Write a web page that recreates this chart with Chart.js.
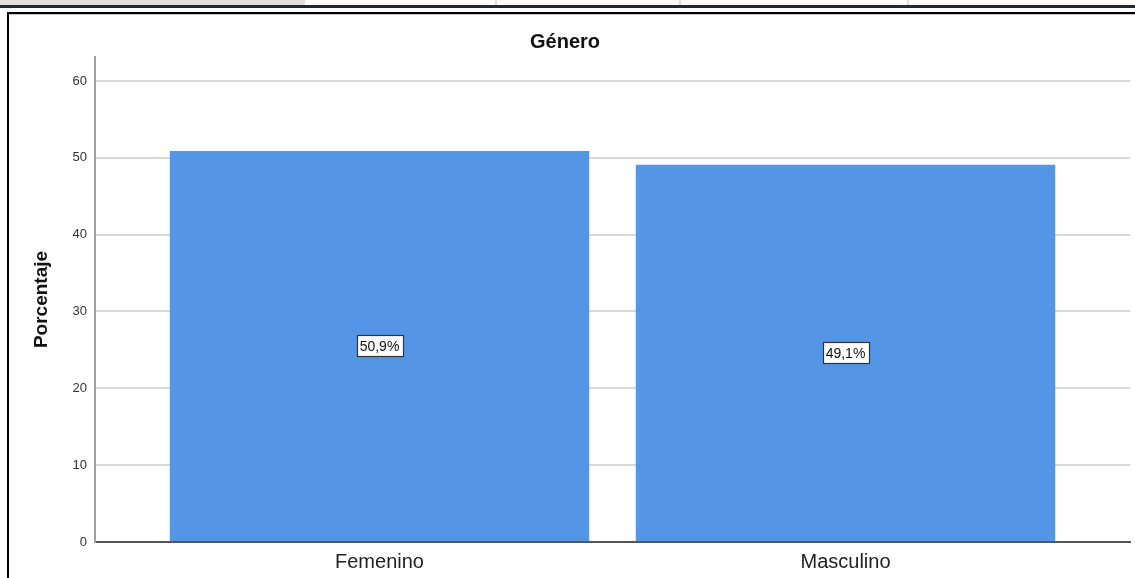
<!DOCTYPE html>
<html>
<head>
<meta charset="utf-8">
<script src="https://cdn.jsdelivr.net/npm/chart.js@4"></script>
<style>
  html, body { margin: 0; padding: 0; background: #fff; }
  body { width: 1135px; height: 578px; position: relative; overflow: hidden; }
  .d { position: absolute; }
  #wrap { position: absolute; left: 0; top: 0; width: 1135px; height: 578px; }
</style>
</head>
<body>
<div class="d" style="left:0;top:0;width:305px;height:5px;background:#e0e0e0"></div>
<div class="d" style="left:495px;top:0;width:2px;height:5px;background:#dddddd"></div>
<div class="d" style="left:679px;top:0;width:2px;height:5px;background:#dddddd"></div>
<div class="d" style="left:907px;top:0;width:2px;height:5px;background:#dddddd"></div>
<div class="d" style="left:0;top:5px;width:1135px;height:3px;background:#1c2b36"></div>
<div class="d" style="left:7px;top:12px;width:1128px;height:2px;background:#000"></div>
<div class="d" style="left:9px;top:14px;width:1126px;height:1px;background:#c8c8c8"></div>
<div class="d" style="left:7px;top:12px;width:2px;height:566px;background:#000"></div>
<div id="wrap"><canvas id="c" width="1135" height="578"></canvas></div>
<script>
const categories = ['Femenino', 'Masculino'];
const percentages = [50.9, 49.1];
const labels = ['50,9%', '49,1%'];
const yTicks = [0, 10, 20, 30, 40, 50, 60];

const dataLabelPlugin = {
  id: 'dataLabelBoxes',
  afterDatasetsDraw(chart) {
    const ctx = chart.ctx;
    const meta = chart.getDatasetMeta(0);
    ctx.save();
    ctx.font = '14px "Liberation Sans", Arial, sans-serif';
    ctx.textAlign = 'center';
    ctx.textBaseline = 'middle';
    meta.data.forEach((bar, i) => {
      const x = bar.x;
      const y = (bar.y + bar.base) / 2;
      const t = labels[i];
      const w = ctx.measureText(t).width + 6;
      const h = 21;
      ctx.fillStyle = '#ffffff';
      ctx.fillRect(Math.round(x - w / 2), Math.round(y - h / 2), Math.round(w), h);
      ctx.strokeStyle = '#333333';
      ctx.lineWidth = 1.2;
      ctx.strokeRect(Math.round(x - w / 2) + 0.5, Math.round(y - h / 2) + 0.5, Math.round(w), h);
      ctx.fillStyle = '#111111';
      ctx.fillText(t, x, y + 1);
    });
    ctx.restore();
  }
};

new Chart(document.getElementById('c'), {
  type: 'bar',
  data: {
    datasets: [{
      data: categories.map((c, i) => ({ x: i, y: percentages[i] })),
      backgroundColor: '#5595e5',
      borderWidth: 0,
      categoryPercentage: 1.0,
      barPercentage: 0.9
    }]
  },
  options: {
    responsive: false,
    animation: false,
    devicePixelRatio: 1,
    layout: { padding: { left: 0, right: 5, top: 0, bottom: 0 } },
    plugins: {
      legend: { display: false },
      tooltip: { enabled: false },
      title: {
        display: true,
        text: 'Género',
        color: '#111',
        font: { family: '"Liberation Sans", Arial, sans-serif', size: 20, weight: 'bold' },
        padding: { top: 30, bottom: 3 }
      }
    },
    scales: {
      x: {
        type: 'linear',
        offset: false,
        min: -0.6105,
        max: 1.6105,
        grid: { display: false, drawTicks: false, offset: false },
        border: { display: true, color: '#555555', width: 2 },
        afterBuildTicks(scale) { scale.ticks = categories.map((c, i) => ({ value: i })); },
        afterFit(scale) { scale.height = 36; },
        ticks: {
          autoSkip: false,
          maxRotation: 0,
          padding: 8,
          color: '#222',
          font: { family: '"Liberation Sans", Arial, sans-serif', size: 20 },
          callback: (v) => categories[v]
        }
      },
      y: {
        min: 0,
        max: 63.12,
        afterBuildTicks(scale) { scale.ticks = yTicks.map(v => ({ value: v })); },
        afterFit(scale) { scale.width = 95; },
        grid: { color: '#d9d9d9', lineWidth: 2, drawTicks: false },
        border: { display: true, color: '#a0a0a0', width: 2 },
        ticks: {
          padding: 8,
          color: '#333',
          font: { family: '"Liberation Sans", Arial, sans-serif', size: 13 }
        },
        title: {
          display: true,
          text: 'Porcentaje',
          color: '#111',
          font: { family: '"Liberation Sans", Arial, sans-serif', size: 19, weight: 'bold' },
          padding: { top: 30, bottom: 0 }
        }
      }
    }
  },
  plugins: [dataLabelPlugin]
});
</script>
</body>
</html>
